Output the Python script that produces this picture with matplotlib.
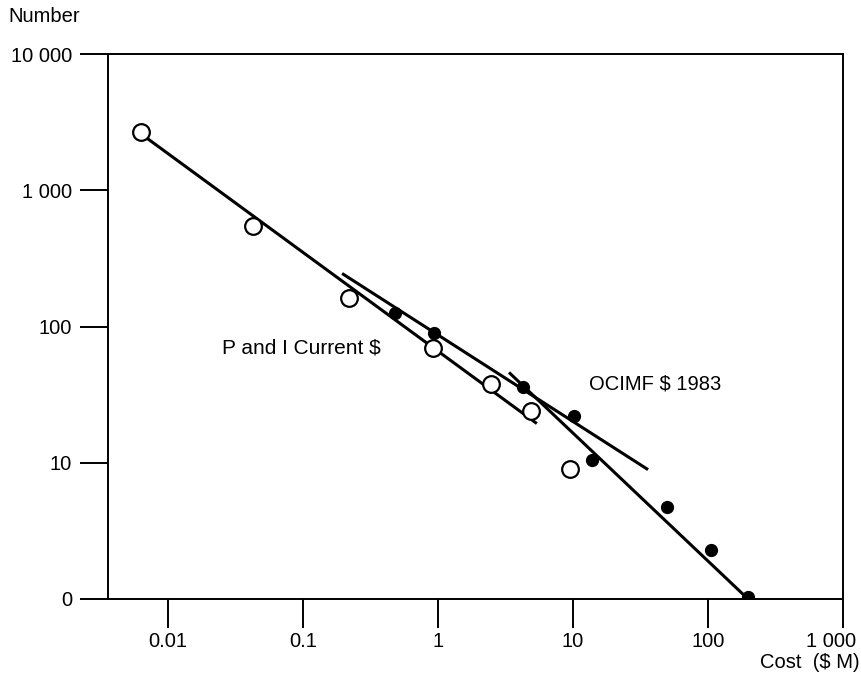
import matplotlib.pyplot as plt
import matplotlib.transforms as mtransforms
import numpy as np

plt.rcParams['font.family'] = ['Liberation Sans', 'DejaVu Sans']

# P and I, current $ (open circles)
pi_cost = [0.0063, 0.043, 0.22, 0.92, 2.47, 4.9, 9.5]
pi_number = [2670, 543, 163, 70, 38, 24, 9.0]
pi_fit_cost = [0.0063, 5.4]
pi_fit_number = [2600, 19.4]

# OCIMF $ 1983 (filled circles)
oc_cost = [0.48, 0.93, 4.26, 10.2, 13.8, 50, 105, 198]
oc_number = [125, 90, 36, 22, 10.4, 4.7, 2.3, 1.03]
oc_fit1_cost = [0.195, 36]
oc_fit1_number = [245, 8.9]
oc_fit2_cost = [3.36, 198]
oc_fit2_number = [46, 1.0]

x_ticks = [0.01, 0.1, 1, 10, 100, 1000]
x_labels = ['0.01', '0.1', '1', '10', '100', '1 000']
y_ticks = [1, 10, 100, 1000, 10000]
y_labels = ['0', '10', '100', '1 000', '10 000']

fs = 14.5

fig = plt.figure(figsize=(8.62, 6.8), dpi=100)
ax = fig.add_axes([108 / 862, 1 - 599 / 680, (843 - 108) / 862, (599 - 54) / 680])

lw = 2.2
ax.plot(pi_fit_cost, pi_fit_number, color='black', lw=lw, solid_capstyle='butt')
ax.plot(oc_fit1_cost, oc_fit1_number, color='black', lw=lw, solid_capstyle='butt')
ax.plot(oc_fit2_cost, oc_fit2_number, color='black', lw=lw, solid_capstyle='butt')

ax.plot(pi_cost, pi_number, 'o', ms=12, mfc='white', mec='black', mew=1.6, zorder=3)
ax.plot(oc_cost, oc_number, 'o', ms=8.5, mfc='black', mec='black', zorder=3)

ax.set_xscale('log')
ax.set_yscale('log')
ax.set_xlim(0.0036, 1000)
ax.set_ylim(1, 10000)
ax.set_xticks(x_ticks)
ax.set_xticklabels(x_labels)
ax.set_yticks(y_ticks)
ax.set_yticklabels(y_labels)
ax.minorticks_off()

for s in ax.spines.values():
    s.set_linewidth(1.4)
ax.tick_params(axis='y', direction='out', length=20, width=1.4, pad=6, labelsize=fs)
ax.tick_params(axis='x', direction='out', length=21, width=1.4, pad=3, labelsize=fs)

# last x label sits left of its tick so it stays inside the figure
last = ax.get_xticklabels()[-1]
last.set_transform(last.get_transform() + mtransforms.ScaledTranslation(-12 / 100, 0, fig.dpi_scale_trans))

ax.text(0.097, 70, 'P and I Current $', fontsize=fs + 0.5, va='center', ha='center')
ax.text(40.5, 38, 'OCIMF $ 1983', fontsize=fs, va='center', ha='center')

fig.text(8 / 862, 1 - 17 / 680, 'Number', fontsize=fs, va='center', ha='left')
fig.text(860 / 862, 1 - 662 / 680, 'Cost  ($ M)', fontsize=fs, va='center', ha='right')

fig.savefig('out.png', dpi=100)
